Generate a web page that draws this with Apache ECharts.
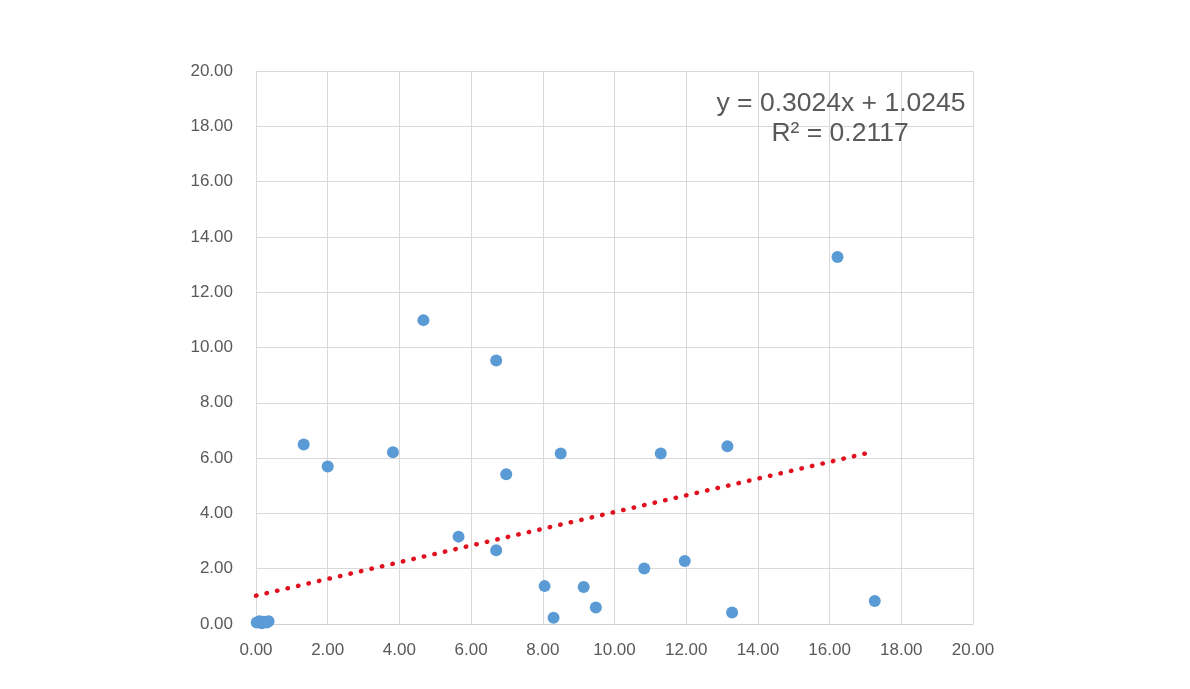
<!DOCTYPE html>
<html>
<head>
<meta charset="utf-8">
<script src="https://cdn.jsdelivr.net/npm/echarts@6/dist/echarts.min.js"></script>
<style>html,body{margin:0;padding:0;background:#fff;}#c{width:1190px;height:689px;}</style>
</head>
<body>
<div id="c"></div>
<script>
var xValues = [0.02, 0.10, 0.16, 0.22, 0.30, 0.35, 1.33, 2.00, 3.82, 4.67, 5.65, 6.70, 6.70, 6.98, 8.05, 8.30, 8.50, 9.14, 9.48, 10.83, 11.29, 11.96, 13.15, 13.28, 16.22, 17.26];
var yValues = [0.05, 0.10, 0.03, 0.08, 0.05, 0.10, 6.49, 5.70, 6.21, 10.99, 3.16, 9.53, 2.67, 5.42, 1.37, 0.23, 6.17, 1.34, 0.60, 2.01, 6.17, 2.28, 6.43, 0.42, 13.27, 0.83];
var trendSlope = 0.3024;
var trendIntercept = 1.0245;
var equationLabel = 'y = 0.3024x + 1.0245';
var r2Label = 'R² = 0.2117';
var axisMin = 0, axisMax = 20, axisStep = 2;

var points = xValues.map(function (x, i) { return [x, yValues[i]]; });
var xEnd = Math.max.apply(null, xValues);
var trend = [[0, trendIntercept], [xEnd, trendIntercept + trendSlope * xEnd]];

var chart = echarts.init(document.getElementById('c'), null, {renderer: 'canvas'});
var labelStyle = {color: '#595959', fontSize: 17, fontFamily: 'Liberation Sans, Arial, sans-serif',
  formatter: function (v) { return v.toFixed(2); }};
chart.setOption({
  animation: false,
  backgroundColor: '#fff',
  grid: {left: 256, right: 217, top: 71, bottom: 65, containLabel: false},
  xAxis: {type: 'value', min: axisMin, max: axisMax, interval: axisStep,
    axisLine: {show: true, lineStyle: {color: '#d0d0d0'}}, axisTick: {show: false},
    axisLabel: Object.assign({margin: 18}, labelStyle),
    splitLine: {show: true, lineStyle: {color: '#d9d9d9', width: 1}}},
  yAxis: {type: 'value', min: axisMin, max: axisMax, interval: axisStep,
    axisLine: {show: true, lineStyle: {color: '#d9d9d9'}}, axisTick: {show: false},
    axisLabel: Object.assign({margin: 23}, labelStyle),
    splitLine: {show: true, lineStyle: {color: '#d9d9d9', width: 1}}},
  series: [
    {type: 'line', data: trend, symbol: 'none', silent: true, z: 3,
      lineStyle: {color: '#e0101e', width: 4.5, type: [0.5, 10.27], cap: 'round'}},
    {type: 'scatter', data: points, symbol: 'circle', symbolSize: 12, z: 4,
      itemStyle: {color: '#5b9bd5', opacity: 1}}
  ],
  graphic: [
    {type: 'text', x: 841, y: 104, z: 10,
      style: {text: equationLabel, fill: '#595959', fontSize: 26.5, fontFamily: 'Liberation Sans, Arial, sans-serif',
        textAlign: 'center', textVerticalAlign: 'middle'}},
    {type: 'text', x: 840, y: 134, z: 10,
      style: {text: r2Label, fill: '#595959', fontSize: 26.5, fontFamily: 'Liberation Sans, Arial, sans-serif',
        textAlign: 'center', textVerticalAlign: 'middle'}}
  ]
});
</script>
</body>
</html>
